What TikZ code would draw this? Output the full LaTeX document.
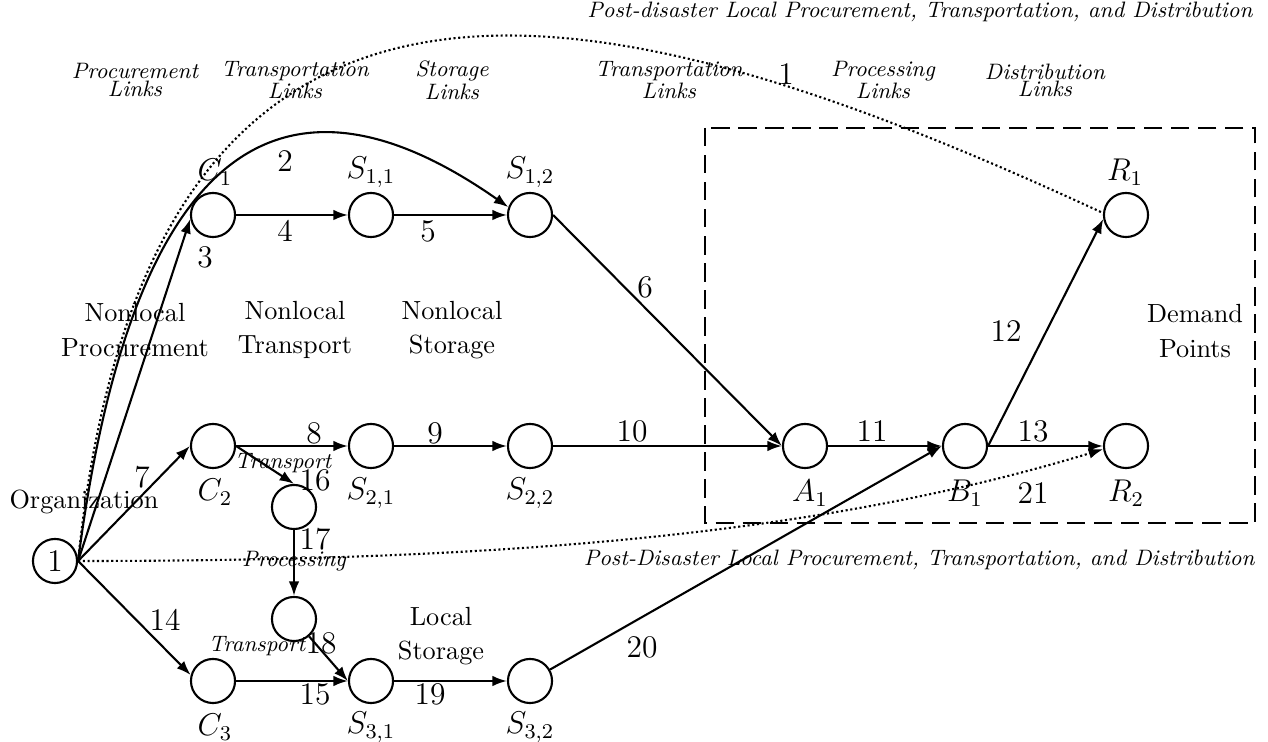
\documentclass[tikz,border=0pt]{standalone}
\usetikzlibrary{arrows.meta}
\begin{document}
\begin{tikzpicture}[x=0.381pt,y=-0.381pt,
  station/.style={circle,draw,line width=0.8pt,minimum size=16.8pt,inner sep=0pt},
  flow/.style={line width=0.8pt,-{Latex[length=5.5pt,width=4pt]}},
  local/.style={line width=0.8pt,densely dotted},
  num/.style={font=\large,inner sep=0pt},
  tag/.style={font=\large,inner sep=0pt},
  cat/.style={align=center,font=\fontsize{10}{13}\selectfont,inner sep=0pt},
  linkcat/.style={align=center,font=\fontsize{8.5}{6.5}\selectfont\itshape,inner sep=0pt},
  note/.style={font=\fontsize{8.5}{10}\selectfont\itshape,inner sep=0pt},
]
\useasboundingbox (0,0) rectangle (1268,742);

% local region
\draw[line width=0.8pt,dash pattern=on 7pt off 3.3pt] (705,128) rectangle (1255,523);

% network nodes
\node[station,font=\large] (O) at (55,561) {1};
\node[station] (C1) at (213,215) {};
\node[station] (S11) at (371,215) {};
\node[station] (S12) at (530,215) {};
\node[station] (R1) at (1126,215) {};
\node[station] (C2) at (213,446) {};
\node[station] (S21) at (371,446) {};
\node[station] (S22) at (530,446) {};
\node[station] (A1) at (805,446) {};
\node[station] (B1) at (965,446) {};
\node[station] (R2) at (1126,446) {};
\node[station] (P1) at (294,507) {};
\node[station] (P2) at (294,619) {};
\node[station] (C3) at (213,681) {};
\node[station] (S31) at (371,681) {};
\node[station] (S32) at (530,681) {};

% node names
\node[tag] (tC1) at (215,172) {$C_1$};
\node[tag] (tS11) at (371,172) {$S_{1,1}$};
\node[tag] (tS12) at (530,172) {$S_{1,2}$};
\node[tag] (tR1) at (1125,172) {$R_1$};
\node[tag] (tC2) at (215,492) {$C_2$};
\node[tag] (tS21) at (371,493) {$S_{2,1}$};
\node[tag] (tS22) at (530,493) {$S_{2,2}$};
\node[tag] (tA1) at (810,493) {$A_1$};
\node[tag] (tB1) at (965,493) {$B_1$};
\node[tag] (tR2) at (1126,493) {$R_2$};
\node[tag] (tC3) at (215,727) {$C_3$};
\node[tag] (tS31) at (371,727) {$S_{3,1}$};
\node[tag] (tS32) at (530,727) {$S_{3,2}$};

% headings
\node[note,anchor=east] (hTop) at (1253,12) {Post-disaster Local Procurement, Transportation, and Distribution};
\node[note,anchor=east] (hBot) at (1255,560) {Post-Disaster Local Procurement, Transportation, and Distribution};
\node[linkcat] (k1) at (135,80) {Procurement\\Links};
\node[linkcat] (k2) at (295,80) {Transportation\\Links};
\node[linkcat] (k3) at (452,80) {Storage\\Links};
\node[linkcat] (k4) at (669,80) {Transportation\\Links};
\node[linkcat] (k5) at (883,80) {Processing\\Links};
\node[linkcat] (k6) at (1045,80) {Distribution\\Links};

\node[cat] (g1) at (135,330) {Nonlocal\\Procurement};
\node[cat] (g2) at (295,330) {Nonlocal\\Transport};
\node[cat] (g3) at (452,330) {Nonlocal\\Storage};
\node[cat] (g4) at (1195,331) {Demand\\Points};
\node[cat] (g5) at (441,636) {Local\\Storage};
\node[cat] (g6) at (84,502) {Organization};

\node[linkcat] (i1) at (283,463) {Transport};
\node[linkcat] (i2) at (294,561) {Processing};
\node[linkcat] (i3) at (257,646) {Transport};

% connectors
\draw[local] (O.east) .. controls (150,-140) and (620,-10) .. (R1.175);
\draw[flow] (O.east) .. controls (140,85) and (320,75) .. (S12.160);
\draw[flow] (O.east) -- (C1.190);
\draw[flow] (O.east) -- (C2.180);
\draw[flow] (O.east) -- (C3.165);
\draw[flow,densely dotted] (O.east) .. controls (500,561) and (817,536) .. (R2.188);
\draw[flow] (C1) -- (S11);
\draw[flow] (S11) -- (S12);
\draw[flow] (S12.east) -- (A1.west);
\draw[flow] (C2) -- (S21);
\draw[flow] (S21) -- (S22);
\draw[flow] (S22) -- (A1);
\draw[flow] (A1) -- (B1);
\draw[flow] (B1.east) -- (R1.190);
\draw[flow] (B1) -- (R2);
\draw[flow] (C2.east) -- (P1.north);
\draw[flow] (P1) -- (P2);
\draw[flow] (P2) -- (S31.west);
\draw[flow] (C3) -- (S31);
\draw[flow] (S31) -- (S32);
\draw[flow] (S32) -- (B1.west);

% link numbers
\node[num] (n1) at (786,74) {1};
\node[num] (n2) at (285,161) {2};
\node[num] (n3) at (205,257) {3};
\node[num] (n4) at (285,231) {4};
\node[num] (n5) at (428,231) {5};
\node[num] (n6) at (645,287) {6};
\node[num] (n7) at (142,477) {7};
\node[num] (n8) at (314,433) {8};
\node[num] (n9) at (435,433) {9};
\node[num] (n10) at (632,431) {10};
\node[num] (n11) at (872,431) {11};
\node[num] (n12) at (1006,331) {12};
\node[num] (n13) at (1033,431) {13};
\node[num] (n14) at (165,620) {14};
\node[num] (n15) at (315,694) {15};
\node[num] (n16) at (315,480) {16};
\node[num] (n17) at (315,539) {17};
\node[num] (n18) at (321,643) {18};
\node[num] (n19) at (430,694) {19};
\node[num] (n20) at (642,647) {20};
\node[num] (n21) at (1033,493) {21};
\end{tikzpicture}
\end{document}
